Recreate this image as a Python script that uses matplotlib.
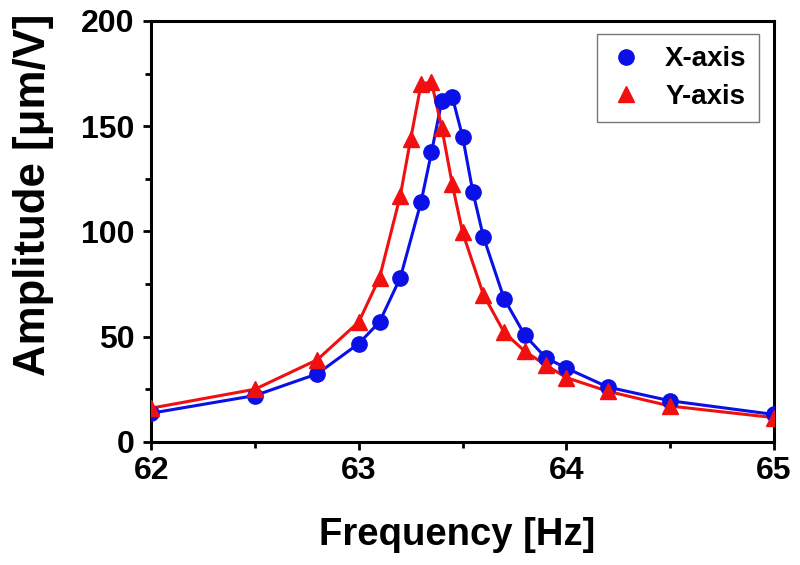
import matplotlib.pyplot as plt
from matplotlib.ticker import MultipleLocator

plt.rcParams['font.family'] = ['Liberation Sans', 'DejaVu Sans']
plt.rcParams['font.weight'] = 'bold'

# frequency [Hz] and amplitude [um/V]
freq_x = [62.0, 62.5, 62.8, 63.0, 63.1, 63.2, 63.3, 63.35, 63.4, 63.45,
          63.5, 63.55, 63.6, 63.7, 63.8, 63.9, 64.0, 64.2, 64.5, 65.0]
amp_x = [13.6, 22, 32.3, 46.7, 57, 78, 114, 137.5, 162, 164,
         145, 118.5, 97.5, 68, 50.6, 40, 35, 26, 19.5, 13]

freq_y = [62.0, 62.5, 62.8, 63.0, 63.1, 63.2, 63.25, 63.3, 63.35, 63.4,
          63.45, 63.5, 63.6, 63.7, 63.8, 63.9, 64.0, 64.2, 64.5, 65.0]
amp_y = [16, 25, 39, 57, 78, 117, 144, 170, 171, 149,
         122.5, 99.5, 70, 52, 43, 36.5, 30.5, 24, 17, 11.5]

x_ticks = [62, 63, 64, 65]
y_ticks = [0, 50, 100, 150, 200]

fig = plt.figure(figsize=(8, 5.65), dpi=100)
ax = fig.add_axes([0.189, 0.218, 0.7785, 0.745])

blue = '#0a10e6'
red = '#f01010'

ax.plot(freq_x, amp_x, color=blue, lw=2.2, zorder=2)
ax.plot(freq_y, amp_y, color=red, lw=2.2, zorder=3)
ax.plot(freq_x, amp_x, 'o', color=blue, ms=11, label='X-axis', zorder=4)
ax.plot(freq_y, amp_y, '^', color=red, ms=12, label='Y-axis', zorder=5)

ax.set_xlim(62, 65)
ax.set_ylim(0, 200)
ax.set_xticks(x_ticks)
ax.set_yticks(y_ticks)
ax.xaxis.set_minor_locator(MultipleLocator(0.5))
ax.yaxis.set_minor_locator(MultipleLocator(25))
ax.tick_params(which='major', direction='out', length=6, width=2, labelsize=23)
ax.tick_params(which='minor', direction='out', length=4, width=2)
ax.tick_params(axis='x', pad=4)
ax.tick_params(axis='y', pad=6)
for sp in ax.spines.values():
    sp.set_linewidth(2.2)

fig.text(457 / 800, 1 - 545 / 565, 'Frequency [Hz]', ha='center', va='baseline',
         fontsize=27.5, fontweight='bold')
fig.text(34 / 800, 1 - 195 / 565, 'Amplitude [\u03bcm/V]', ha='center', va='center',
         rotation=90, fontsize=31.5, fontweight='bold')

leg = ax.legend(loc='upper right', bbox_to_anchor=(0.976, 0.969), borderaxespad=0,
                fontsize=20, fancybox=False, handlelength=1.2, handletextpad=0.8,
                labelspacing=0.4, borderpad=0.45)
leg.get_frame().set_edgecolor('#555555')
leg.get_frame().set_linewidth(1)
for t in leg.get_texts():
    t.set_fontweight('bold')

fig.savefig('out.png', dpi=100)
